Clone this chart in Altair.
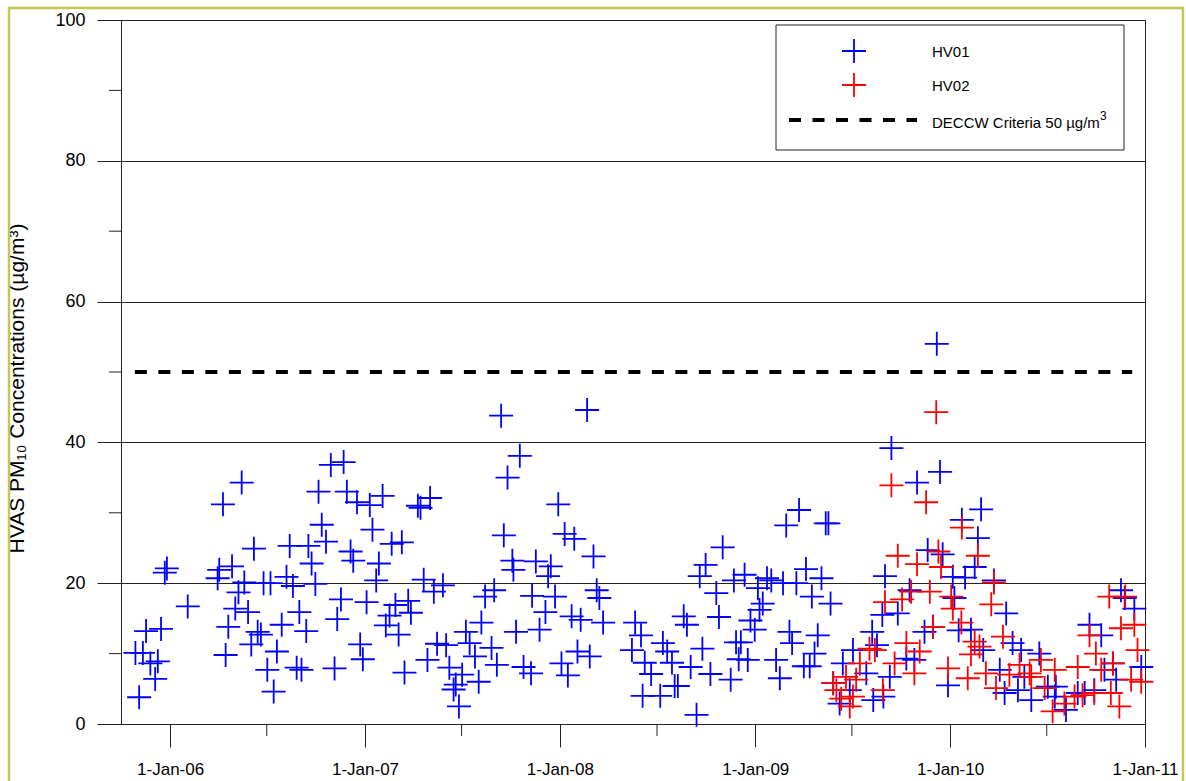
import altair as alt
import pandas as pd

# ---------------- data ----------------
# sample times as decimal years, concentrations in ug/m3
hv01_t = [2005.822, 2005.843, 2005.862, 2005.877, 2005.899, 2005.925, 2005.938, 2005.955, 2005.974, 2005.986,
          2006.091, 2006.246, 2006.253, 2006.272, 2006.286, 2006.301, 2006.318, 2006.335, 2006.352, 2006.368,
          2006.383, 2006.400, 2006.417, 2006.432, 2006.450, 2006.468, 2006.482, 2006.499, 2006.516, 2006.533,
          2006.550, 2006.574, 2006.598, 2006.614, 2006.631, 2006.651, 2006.665, 2006.675, 2006.699, 2006.711,
          2006.728, 2006.747, 2006.763, 2006.779, 2006.802, 2006.827, 2006.845, 2006.860, 2006.877, 2006.892,
          2006.909, 2006.927, 2006.942, 2006.961, 2006.976, 2006.991, 2007.009, 2007.026, 2007.041, 2007.058,
          2007.073, 2007.091, 2007.109, 2007.127, 2007.138, 2007.157, 2007.174, 2007.190, 2007.205, 2007.222,
          2007.237, 2007.272, 2007.286, 2007.304, 2007.322, 2007.335, 2007.354, 2007.371, 2007.400, 2007.417,
          2007.434, 2007.456, 2007.468, 2007.484, 2007.499, 2007.519, 2007.537, 2007.566, 2007.585, 2007.600,
          2007.617, 2007.650, 2007.665, 2007.678, 2007.699, 2007.713, 2007.732, 2007.757, 2007.764, 2007.778,
          2007.796, 2007.814, 2007.853, 2007.860, 2007.877, 2007.896, 2007.928, 2007.940, 2007.955, 2007.978,
          2007.993, 2008.009, 2008.027, 2008.043, 2008.062, 2008.075, 2008.092, 2008.109, 2008.142, 2008.155,
          2008.174, 2008.190, 2008.204, 2008.224, 2008.371, 2008.386, 2008.417, 2008.424, 2008.437, 2008.468,
          2008.516, 2008.528, 2008.550, 2008.574, 2008.588, 2008.605, 2008.634, 2008.651, 2008.670, 2008.701,
          2008.716, 2008.732, 2008.747, 2008.773, 2008.802, 2008.815, 2008.836, 2008.875, 2008.891, 2008.904,
          2008.916, 2008.927, 2008.947, 2008.964, 2008.978, 2008.998, 2009.015, 2009.024, 2009.041, 2009.063,
          2009.084, 2009.109, 2009.127, 2009.144, 2009.160, 2009.178, 2009.191, 2009.212, 2009.226, 2009.252,
          2009.262, 2009.281, 2009.292, 2009.306, 2009.323, 2009.340, 2009.363, 2009.376, 2009.388, 2009.400,
          2009.434, 2009.451, 2009.486, 2009.503, 2009.571, 2009.602, 2009.608, 2009.626, 2009.653, 2009.660,
          2009.667, 2009.692, 2009.701, 2009.733, 2009.776, 2009.793, 2009.819, 2009.832, 2009.870, 2009.887,
          2009.913, 2009.933, 2009.950, 2009.964, 2009.990, 2010.015, 2010.024, 2010.046, 2010.062, 2010.078,
          2010.109, 2010.127, 2010.144, 2010.161, 2010.170, 2010.226, 2010.255, 2010.281, 2010.289, 2010.323,
          2010.349, 2010.366, 2010.383, 2010.417, 2010.460, 2010.503, 2010.537, 2010.545, 2010.596, 2010.656,
          2010.691, 2010.716, 2010.742, 2010.776, 2010.793, 2010.836, 2010.853, 2010.878, 2010.896, 2010.947,
          2010.981]
hv01_v = [10.1, 3.8, 10.1, 13.2, 8.6, 6.4, 8.9, 13.5, 21.5, 22.1,
          16.7, 20.7, 21.9, 31.2, 9.8, 13.8, 22.4, 16.4, 18.7, 34.3,
          20.1, 15.9, 11.3, 24.9, 13.1, 12.7, 20.0, 7.7, 20.0, 4.6,
          10.3, 14.1, 20.9, 25.3, 19.6, 8.0, 15.9, 7.7, 13.2, 25.3,
          22.8, 19.9, 33.0, 28.3, 25.9, 36.8, 7.9, 14.9, 17.7, 37.2,
          33.0, 24.5, 23.2, 31.5, 11.3, 9.2, 17.3, 31.1, 27.6, 20.4,
          22.8, 32.4, 14.0, 15.4, 25.6, 16.9, 12.7, 25.8, 7.3, 17.5,
          15.8, 31.0, 30.7, 20.5, 9.1, 32.1, 18.8, 11.4, 19.7, 11.2,
          8.0, 4.9, 5.6, 2.5, 7.0, 13.1, 11.5, 9.6, 6.0, 14.4,
          18.1, 10.8, 19.0, 8.4, 43.8, 26.8, 35.0, 23.2, 21.9, 13.1,
          38.1, 8.1, 7.2, 18.2, 23.1, 13.4, 15.9, 21.0, 22.4, 18.1,
          31.2, 8.6, 27.0, 6.9, 15.3, 26.3, 10.3, 14.8, 44.6, 9.6,
          23.8, 19.0, 17.9, 14.4, 10.5, 14.4, 12.6, 4.0, 8.7, 7.1,
          4.0, 11.5, 10.3, 8.7, 5.4, 5.4, 15.3, 14.1, 8.1, 1.3,
          21.0, 10.7, 22.6, 7.1, 18.6, 15.2, 25.1, 6.3, 20.4, 11.6,
          9.2, 11.6, 21.2, 9.1, 14.7, 13.4, 19.3, 16.2, 17.1, 20.7,
          20.4, 9.1, 6.5, 20.0, 28.2, 13.1, 11.5, 20.0, 30.4, 8.2,
          22.0, 8.2, 18.1, 10.0, 12.6, 20.7, 28.5, 28.5, 17.1, 5.8,
          2.9, 8.6, 4.8, 10.5, 7.2, 13.1, 3.4, 11.2, 15.5, 3.9,
          21.0, 6.7, 39.2, 15.7, 9.3, 19.0, 9.1, 34.3, 13.1, 24.7,
          13.8, 54.0, 35.8, 24.1, 5.5, 20.9, 17.9, 13.3, 29.0, 20.8,
          13.4, 22.3, 26.4, 30.5, 10.5, 20.4, 7.7, 4.4, 15.7, 11.5,
          4.8, 10.5, 6.7, 3.4, 10.0, 5.3, 3.9, 5.3, 2.0, 4.4,
          4.4, 14.1, 4.8, 12.6, 7.7, 8.6, 6.3, 19.0, 17.9, 16.4,
          8.1]

hv02_t = [2009.400, 2009.417, 2009.443, 2009.468, 2009.486, 2009.503, 2009.520, 2009.537, 2009.588, 2009.614,
          2009.656, 2009.668, 2009.701, 2009.716, 2009.733, 2009.755, 2009.776, 2009.802, 2009.819, 2009.832,
          2009.845, 2009.878, 2009.896, 2009.913, 2009.930, 2009.940, 2009.955, 2009.990, 2010.007, 2010.015,
          2010.058, 2010.062, 2010.092, 2010.109, 2010.127, 2010.144, 2010.152, 2010.186, 2010.212, 2010.226,
          2010.237, 2010.272, 2010.306, 2010.357, 2010.409, 2010.417, 2010.468, 2010.486, 2010.528, 2010.537,
          2010.588, 2010.639, 2010.656, 2010.682, 2010.716, 2010.742, 2010.750, 2010.776, 2010.819, 2010.827,
          2010.836, 2010.870, 2010.878, 2010.901, 2010.930, 2010.947, 2010.964, 2010.981]
hv02_v = [5.8, 4.8, 3.6, 6.7, 2.5, 3.9, 6.3, 8.6, 10.7, 10.5,
          4.8, 17.3, 33.9, 8.6, 23.9, 17.7, 11.5, 18.8, 7.2, 22.7,
          10.3, 31.5, 18.8, 13.8, 44.3, 24.5, 22.3, 7.9, 18.1, 16.4,
          14.4, 27.9, 6.5, 9.9, 11.7, 23.9, 11.0, 7.2, 17.0, 20.1,
          5.1, 12.4, 7.0, 8.4, 7.2, 6.7, 9.1, 5.1, 1.8, 7.7,
          2.9, 3.9, 8.1, 4.1, 12.6, 4.4, 10.0, 7.7, 18.1, 4.4,
          8.6, 2.5, 13.6, 18.1, 6.3, 14.1, 10.5, 6.0]

criteria_value = 50
criteria_start = "2005-10-27"
criteria_end = "2010-12-08"

year_ticks = [2006, 2007, 2008, 2009, 2010, 2011]
mid_year_ticks = ["2006-07-01", "2007-07-01", "2008-07-01", "2009-07-01", "2010-07-01"]
y_major = [0, 20, 40, 60, 80, 100]
y_minor = [10, 30, 50, 70, 90]

series_names = ["HV01", "HV02"]
series_colors = ["#0000ff", "#ff0000"]
criteria_label = "DECCW Criteria 50 µg/m"
criteria_sup = "3"
y_title = "HVAS PM₁₀ Concentrations (µg/m³)"


def to_ts(t):
    y = int(t)
    s = pd.Timestamp(year=y, month=1, day=1)
    e = pd.Timestamp(year=y + 1, month=1, day=1)
    return (s + (e - s) * (t - y)).normalize()


df01 = pd.DataFrame({"date": [to_ts(t) for t in hv01_t], "value": hv01_v})
df02 = pd.DataFrame({"date": [to_ts(t) for t in hv02_t], "value": hv02_v})
df_crit = pd.DataFrame({"start": [pd.Timestamp(criteria_start)], "end": [pd.Timestamp(criteria_end)],
                        "value": [criteria_value]})
df_xminor = pd.DataFrame({"date": pd.to_datetime(mid_year_ticks)})
df_yminor = pd.DataFrame({"value": y_minor})
one = pd.DataFrame({"k": [0]})

FONT = "Liberation Sans"
CROSS = "M-1,0L1,0M0,-1L0,1"
AX = "#222222"

xscale = alt.Scale(domain=[alt.DateTime(year=2005, month=10, date=1),
                           alt.DateTime(year=2011, month=1, date=1)], nice=False)
yscale = alt.Scale(domain=[0, 100], nice=False)

xaxis = alt.Axis(values=[alt.DateTime(year=y, month=1, date=1) for y in year_ticks],
                 format="%-d-%b-%y", tickSize=23, labelFontSize=17, labelPadding=14,
                 grid=False, title=None, domainColor=AX, tickColor=AX, labelColor="#000",
                 labelFlush=False, labelOverlap=False, labelFont=FONT)
yaxis = alt.Axis(values=y_major, tickSize=24, grid=True, gridColor=AX, gridWidth=1,
                 labelFontSize=18, labelPadding=12, labelColor="#000", labelFont=FONT,
                 domainColor=AX, tickColor=AX, title=y_title, titleFontSize=21,
                 titleFontWeight="normal", titleFont=FONT, titleColor="#000",
                 titleX=-104, titleY=368, titleBaseline="middle", titleAlign="center")

X = alt.X("date:T", scale=xscale, axis=xaxis)
Y = alt.Y("value:Q", scale=yscale, axis=yaxis)

pts01 = alt.Chart(df01).mark_point(shape=CROSS, size=576, filled=False, strokeWidth=1.8,
                                   color=series_colors[0], opacity=1).encode(x=X, y=Y)
pts02 = alt.Chart(df02).mark_point(shape=CROSS, size=576, filled=False, strokeWidth=1.8,
                                   color=series_colors[1], opacity=1).encode(
    x=alt.X("date:T"), y=alt.Y("value:Q"))

crit = alt.Chart(df_crit).mark_rule(color="#000", strokeWidth=4, strokeDash=[12, 11.5]).encode(
    x=alt.X("start:T"), x2="end:T", y=alt.Y("value:Q"))

xminor = alt.Chart(df_xminor).mark_rule(color=AX, strokeWidth=1).encode(
    x=alt.X("date:T"), y=alt.value(704), y2=alt.value(716))
yminor = alt.Chart(df_yminor).mark_rule(color=AX, strokeWidth=1).encode(
    y=alt.Y("value:Q"), x=alt.value(-12), x2=alt.value(0))

# legend box (drawn manually)
leg_box = alt.Chart(one).mark_rect(fill="#ffffff", stroke=AX, strokeWidth=1).encode(
    x=alt.value(655), x2=alt.value(1003), y=alt.value(5), y2=alt.value(130))
leg_p1 = alt.Chart(one).mark_point(shape=CROSS, size=576, filled=False, strokeWidth=1.8,
                                   color=series_colors[0], opacity=1).encode(
    x=alt.value(733), y=alt.value(31))
leg_p2 = alt.Chart(one).mark_point(shape=CROSS, size=576, filled=False, strokeWidth=1.8,
                                   color=series_colors[1], opacity=1).encode(
    x=alt.value(733), y=alt.value(65))
leg_line = alt.Chart(one).mark_rule(color="#000", strokeWidth=4, strokeDash=[12, 11.5]).encode(
    x=alt.value(668), x2=alt.value(796), y=alt.value(100))
leg_t1 = alt.Chart(one).mark_text(align="left", baseline="middle", fontSize=15, font=FONT,
                                  color="#000").encode(x=alt.value(811), y=alt.value(32),
                                                       text=alt.value(series_names[0]))
leg_t2 = alt.Chart(one).mark_text(align="left", baseline="middle", fontSize=15, font=FONT,
                                  color="#000").encode(x=alt.value(811), y=alt.value(66),
                                                       text=alt.value(series_names[1]))
leg_t3 = alt.Chart(one).mark_text(align="left", baseline="middle", fontSize=15, font=FONT,
                                  color="#000").encode(x=alt.value(811), y=alt.value(103),
                                                       text=alt.value(criteria_label))
leg_t3s = alt.Chart(one).mark_text(align="left", baseline="middle", fontSize=12, font=FONT,
                                   color="#000").encode(x=alt.value(979), y=alt.value(96),
                                                        text=alt.value(criteria_sup))

border = alt.Chart(one).mark_rect(fill=None, stroke="#c2c94f", strokeWidth=2.5).encode(
    x=alt.value(-112), x2=alt.value(1062), y=alt.value(-12), y2=alt.value(800))

chart = alt.layer(
    pts01, pts02, crit, xminor, yminor,
    leg_box, leg_p1, leg_p2, leg_line, leg_t1, leg_t2, leg_t3, leg_t3s, border
).properties(
    width=1024, height=704,
    padding={"left": 121, "top": 20, "right": 41, "bottom": 57},
    autosize=alt.AutoSizeParams(type="none"),
    background="#ffffff",
).configure(font=FONT).configure_view(stroke=AX, strokeWidth=1)

chart.save("out.html", embed_options={"renderer": "svg", "actions": False})
